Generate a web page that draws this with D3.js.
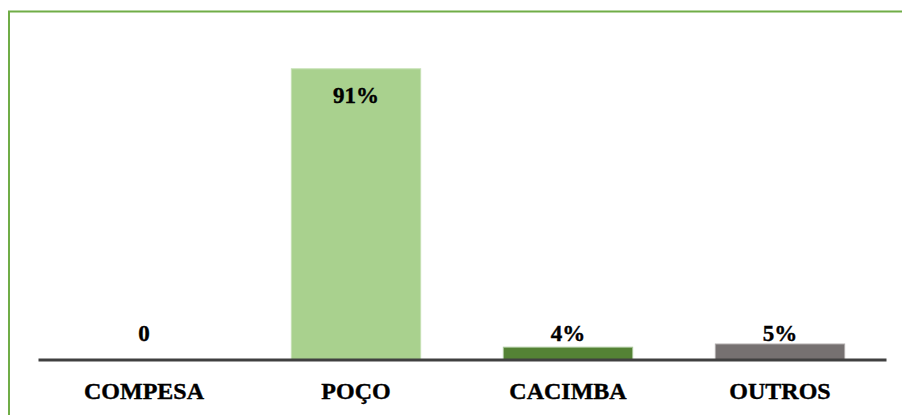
<!DOCTYPE html>
<html><head><meta charset="utf-8">
<script src="https://cdn.jsdelivr.net/npm/d3@7"></script>
<style>html,body{margin:0;padding:0;background:#fff;overflow:hidden}</style>
</head><body>
<svg id="chart" width="902" height="415"></svg>
<script>
const categories = ["COMPESA", "POÇO", "CACIMBA", "OUTROS"];
const values = [0, 91, 4, 5];
const valueLabels = ["0", "91%", "4%", "5%"];
const colors = ["#a9d18e", "#a9d18e", "#548235", "#767171"];
const strokes = ["#c5e0b4", "#c5e0b4", "#a9c79a", "#afabab"];

const svg = d3.select("#chart");
const W = 902, H = 415;
const FONT = "'Times New Roman','Liberation Serif',serif";
svg.append("rect").attr("x", 9).attr("y", 11.5).attr("width", W + 20).attr("height", H + 20)
  .attr("fill", "#fff").attr("stroke", "#70ad47").attr("stroke-width", 2);

const x = d3.scaleBand().domain(categories).range([38, 886]).paddingInner(0.39).paddingOuter(0.195);
const y = d3.scaleLinear().domain([0, 100]).range([360, 40]);

svg.selectAll("rect.bar").data(values).enter().append("rect").attr("class", "bar")
  .attr("x", (d, i) => x(categories[i]))
  .attr("width", x.bandwidth())
  .attr("y", d => y(d))
  .attr("height", d => y(0) - y(d))
  .attr("fill", (d, i) => colors[i])
  .attr("stroke", (d, i) => strokes[i])
  .attr("stroke-width", d => d > 0 ? 1 : 0);

// baseline axis
const axis = d3.axisBottom(x).tickSize(0).tickPadding(22);
const ag = svg.append("g").attr("transform", `translate(0,${y(0) - 0.5})`).call(axis);
ag.attr("font-family", FONT);
ag.select(".domain").attr("stroke", "#404040").attr("stroke-width", 3);
ag.selectAll("text").style("font-family", FONT)
  .attr("font-weight", "bold").attr("font-size", 24).attr("fill", "#000")
  .attr("stroke", "#000").attr("stroke-width", 0.4);

svg.selectAll("text.val").data(values).enter().append("text").attr("class", "val")
  .attr("x", (d, i) => x(categories[i]) + x.bandwidth() / 2)
  .attr("y", d => Math.min(y(d) + 34, y(0) - 19))
  .attr("text-anchor", "middle")
  .style("font-family", FONT)
  .attr("font-weight", "bold").attr("font-size", 23).attr("fill", "#000")
  .attr("stroke", "#000").attr("stroke-width", 0.4)
  .text((d, i) => valueLabels[i]);
</script>
</body></html>
